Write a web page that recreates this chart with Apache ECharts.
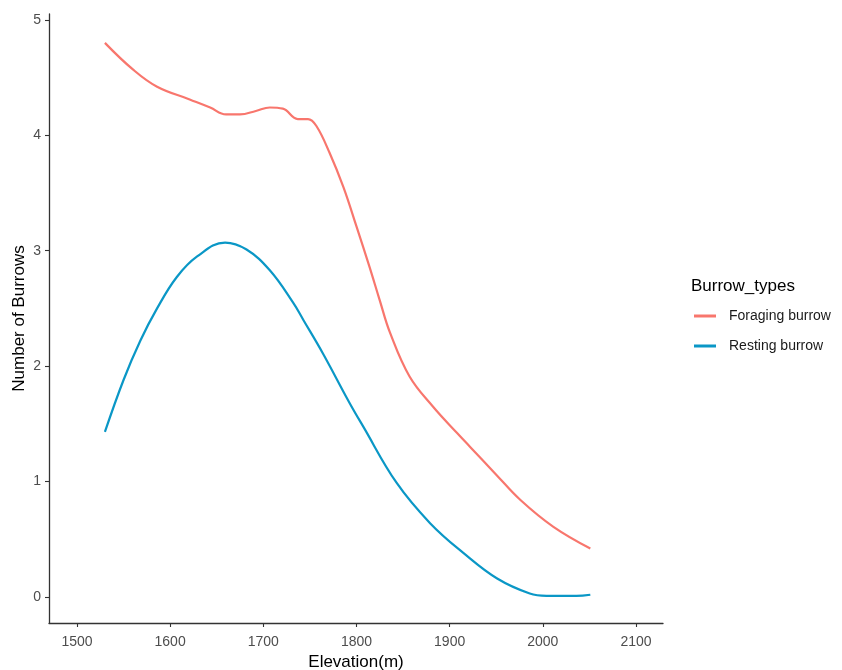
<!DOCTYPE html>
<html>
<head>
<meta charset="utf-8">
<script src="https://cdn.jsdelivr.net/npm/echarts@6/dist/echarts.min.js"></script>
<style>
  html, body { margin: 0; padding: 0; background: #fff; }
  #chart { width: 842px; height: 670px; }
</style>
</head>
<body>
<div id="chart"></div>
<script>
// elevation (m) and smoothed burrow counts
var foragingElev = [1530, 1560, 1586, 1621, 1643, 1660, 1675, 1692, 1707, 1721, 1737, 1748, 1757, 1771, 1786, 1800, 1814, 1825, 1836, 1857, 1882, 1908, 1922, 1950, 1976, 2011, 2051];
var foragingCount = [4.80, 4.57, 4.42, 4.31, 4.24, 4.18, 4.18, 4.21, 4.24, 4.23, 4.14, 4.14, 4.08, 3.85, 3.55, 3.21, 2.86, 2.57, 2.29, 1.91, 1.65, 1.42, 1.30, 1.06, 0.84, 0.61, 0.42];

var restingElev = [1530, 1550, 1568, 1586, 1607, 1629, 1659, 1682, 1707, 1732, 1743, 1764, 1792, 1807, 1843, 1879, 1915, 1951, 1986, 2004, 2036, 2051];
var restingCount = [1.43, 1.88, 2.22, 2.50, 2.77, 2.95, 3.07, 3.01, 2.83, 2.55, 2.40, 2.11, 1.69, 1.48, 0.99, 0.64, 0.38, 0.16, 0.03, 0.01, 0.01, 0.02];

var xTicks = [1500, 1600, 1700, 1800, 1900, 2000, 2100];
var yTicks = [0, 1, 2, 3, 4, 5];

var seriesNames = ['Foraging burrow', 'Resting burrow'];
var colors = ['#F8766D', '#0A97C6'];

function pairs(xs, ys) {
    return xs.map(function (x, i) { return [x, ys[i]]; });
}

var chart = echarts.init(document.getElementById('chart'));

var axisLine = { show: true, onZero: false, lineStyle: { color: '#333', width: 1.3 } };
var axisTick = { show: true, length: 4, lineStyle: { color: '#333', width: 1.1 } };
var labelText = { color: '#4D4D4D', fontSize: 14, fontFamily: 'Liberation Sans', formatter: function (v) { return String(v); } };

var option = {
    backgroundColor: '#fff',
    animation: false,
    textStyle: { fontFamily: 'Liberation Sans' },
    grid: { left: 49, right: 179, top: 14, bottom: 47, outerBoundsMode: 'none', containLabel: false },
    title: {
        text: 'Burrow_types',
        left: 691,
        top: 278,
        padding: 0,
        textStyle: { fontSize: 17, fontWeight: 'normal', color: '#000', fontFamily: 'Liberation Sans' }
    },
    legend: {
        data: seriesNames,
        orient: 'vertical',
        left: 694,
        top: 309,
        padding: 0,
        itemGap: 16,
        itemWidth: 22,
        itemHeight: 3,
        icon: 'rect',
        textStyle: { fontSize: 14, color: '#1a1a1a', padding: [0, 0, 0, 8], fontFamily: 'Liberation Sans' }
    },
    xAxis: {
        type: 'value',
        min: 1470,
        max: 2129,
        name: 'Elevation(m)',
        nameLocation: 'middle',
        nameGap: 31,
        nameMoveOverlap: false,
        nameTextStyle: { fontSize: 17, color: '#000', fontFamily: 'Liberation Sans' },
        axisLine: axisLine,
        axisTick: Object.assign({ customValues: xTicks }, axisTick),
        axisLabel: Object.assign({ customValues: xTicks, margin: 12 }, labelText),
        splitLine: { show: false }
    },
    yAxis: {
        type: 'value',
        min: -0.225,
        max: 5.05,
        name: 'Number of Burrows',
        nameLocation: 'middle',
        nameGap: 21,
        nameMoveOverlap: false,
        nameTextStyle: { fontSize: 17, color: '#000', fontFamily: 'Liberation Sans' },
        axisLine: axisLine,
        axisTick: Object.assign({ customValues: yTicks }, axisTick),
        axisLabel: Object.assign({ customValues: yTicks, margin: 8 }, labelText),
        splitLine: { show: false }
    },
    series: [
        {
            name: seriesNames[0],
            type: 'line',
            data: pairs(foragingElev, foragingCount),
            smooth: 0.4,
            showSymbol: false,
            color: colors[0],
            lineStyle: { width: 2.2, color: colors[0] }
        },
        {
            name: seriesNames[1],
            type: 'line',
            data: pairs(restingElev, restingCount),
            smooth: 0.4,
            showSymbol: false,
            color: colors[1],
            lineStyle: { width: 2.2, color: colors[1] }
        }
    ]
};

chart.setOption(option);
</script>
</body>
</html>
